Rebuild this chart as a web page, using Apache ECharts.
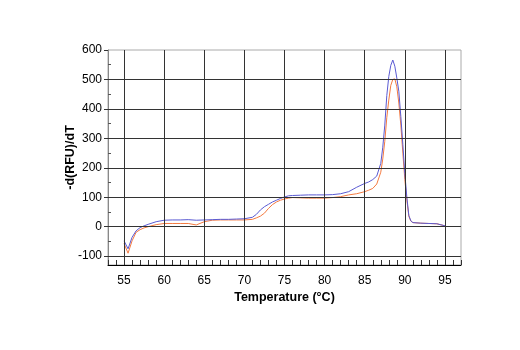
<!DOCTYPE html>
<html>
<head>
<meta charset="utf-8">
<script src="https://cdn.jsdelivr.net/npm/echarts@6/dist/echarts.min.js"></script>
<style>html,body{margin:0;padding:0;background:#fff}#c{width:520px;height:350px}</style>
</head>
<body>
<div id="c"></div>
<script>
var temps = [55,55.5,56,56.5,57,57.5,58,59,60,61,62,63,64,65,66,67,68,69,70,71,71.5,72,72.5,73,73.5,74,74.5,75,75.5,76,77,78,79,80,81,82,83,84,85,85.5,86,86.5,87,87.25,87.5,87.75,88,88.25,88.5,88.75,89,89.25,89.5,89.75,90,90.25,90.5,90.75,91,92,93,94,95];
var blueValues = [-48,-75,-36,-14,-3,3,8,17,22,23,23,24,22,23,24,25,25,26,27,32,42,57,68,76,84,90,96,101,105,106,107,108,108,108,109,112,119,134,147,152,160,172,215,270,345,445,510,548,566,545,505,460,374,280,180,100,38,20,14,12,11,10,3];
var orangeValues = [-57,-90,-48,-19,-10,-4,0,7,11,11,11,11,6,17,22,23,23,23,23,25,30,36,46,62,75,84,90,94,97,99,98,97,97,97,99,102,108,112,119,124,130,145,185,230,290,370,430,480,500,502,475,420,345,250,160,90,35,19,14,12,11,10,3];
var xTickLabels = [55,60,65,70,75,80,85,90,95];
var xMinorTicks = [53,54,55,56,57,58,59,60,61,62,63,64,65,66,67,68,69,70,71,72,73,74,75,76,77,78,79,80,81,82,83,84,85,86,87,88,89,90,91,92,93,94,95,96,97];
var yTickLabels = [-100,0,100,200,300,400,500,600];
var yMinorTicks = [-50,50,150,250,350,450,550];

var font = "'Liberation Sans Narrow','Liberation Sans',Arial,sans-serif";
function pairs(xs, ys){ return xs.map(function(x,i){ return [x, ys[i]]; }); }

var gridLines = [];
xTickLabels.forEach(function(v){ gridLines.push({xAxis: v}); });
yTickLabels.forEach(function(v){ if (v < 600) gridLines.push({yAxis: v}); });

var chart = echarts.init(document.getElementById('c'));
chart.setOption({
  animation: false,
  grid: {left: 108, right: 59, top: 50, bottom: 85, show: true, borderColor: '#aaaaaa', borderWidth: 1, backgroundColor: 'transparent'},
  xAxis: {
    type: 'value', min: 53, max: 97,
    name: 'Temperature (°C)', nameLocation: 'middle', nameGap: 26, nameMoveOverlap: false,
    nameTextStyle: {fontFamily: font, fontSize: 12.5, fontWeight: 'bold', color: '#000'},
    axisLine: {show: true, onZero: false, lineStyle: {color: '#000', width: 1}},
    axisTick: {show: true, inside: true, length: 5, customValues: xMinorTicks, lineStyle: {color: '#333'}},
    axisLabel: {show: true, customValues: xTickLabels, margin: 10, fontFamily: font, fontSize: 12, color: '#000'},
    splitLine: {show: false}
  },
  yAxis: [{
    type: 'value', min: -130, max: 600,
    name: '-d(RFU)/dT', nameLocation: 'middle', nameGap: 31, nameMoveOverlap: false,
    nameTextStyle: {fontFamily: font, fontSize: 12.5, fontWeight: 'bold', color: '#000'},
    axisLine: {show: true, lineStyle: {color: '#888', width: 1}},
    axisTick: {show: true, inside: false, length: 4, customValues: yTickLabels, lineStyle: {color: '#333'}},
    axisLabel: {show: true, customValues: yTickLabels, margin: 6, fontFamily: font, fontSize: 12, color: '#000'},
    splitLine: {show: false}
  }, {
    type: 'value', min: -130, max: 600, position: 'left',
    axisLine: {show: false},
    axisTick: {show: true, inside: true, length: 3, customValues: yMinorTicks, lineStyle: {color: '#555'}},
    axisLabel: {show: false},
    splitLine: {show: false}
  }],
  series: [{
    type: 'line', name: 'grid', data: [], silent: true,
    markLine: {silent: true, symbol: ['none','none'], label: {show: false}, animation: false,
      lineStyle: {color: '#333', width: 1, type: 'solid'}, data: gridLines}
  }, {
    type: 'line', name: 'orange', data: pairs(temps, orangeValues), showSymbol: false, smooth: false,
    lineStyle: {color: '#f47a40', width: 1}, z: 3
  }, {
    type: 'line', name: 'blue', data: pairs(temps, blueValues), showSymbol: false, smooth: false,
    lineStyle: {color: '#5a5ad2', width: 1}, z: 4
  }]
});
</script>
</body>
</html>
